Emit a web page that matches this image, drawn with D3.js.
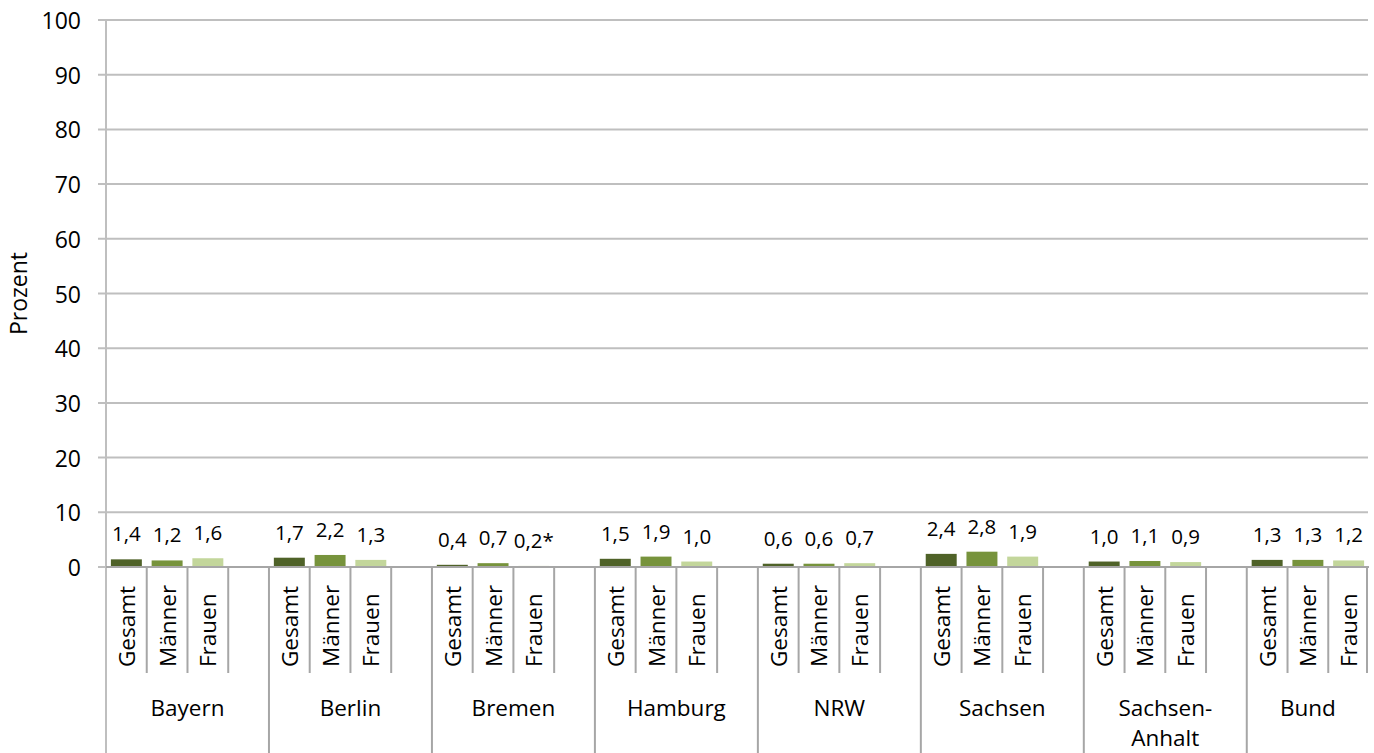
<!DOCTYPE html>
<html>
<head>
<meta charset="utf-8">
<script src="https://cdn.jsdelivr.net/npm/d3@7"></script>
<style>
  html, body { margin: 0; padding: 0; background: #fff; }
  svg { display: block; font-family: "Open Sans", sans-serif; }
</style>
</head>
<body>
<svg id="chart" width="1374" height="753"></svg>
<script>
// ---- data ----
const groups = ["Bayern", "Berlin", "Bremen", "Hamburg", "NRW", "Sachsen", "Sachsen-|Anhalt", "Bund"];
const seriesNames = ["Gesamt", "Männer", "Frauen"];
const gesamt = [1.4, 1.7, 0.4, 1.5, 0.6, 2.4, 1.0, 1.3];
const maenner = [1.2, 2.2, 0.7, 1.9, 0.6, 2.8, 1.1, 1.3];
const frauen = [1.6, 1.3, 0.2, 1.0, 0.7, 1.9, 0.9, 1.2];
const noteMarks = [["Bremen", "Frauen", "*"]];
const yTicks = [0, 10, 20, 30, 40, 50, 60, 70, 80, 90, 100];
const colors = ["#4f6228", "#77933c", "#c3d69b"];

// ---- layout ----
const svg = d3.select("#chart");
const mLeft = 106, mRight = 1369, mTop = 20, mBottom = 567;
const seriesVals = [gesamt, maenner, frauen];

// slots: 3 series + 1 blank per group, last group without blank
const slots = [];
groups.forEach((g, gi) => {
  seriesNames.forEach((s, si) => slots.push({ id: gi + "_" + si, group: g, gi, series: s, si, value: seriesVals[si][gi] }));
  if (gi < groups.length - 1) slots.push({ id: gi + "_blank", group: g, gi, blank: true });
});

const x = d3.scaleBand().domain(slots.map(d => d.id)).range([mLeft, mRight]).paddingInner(0).paddingOuter(0);
const y = d3.scaleLinear().domain([0, 100]).range([mBottom, mTop]);
const bw = x.bandwidth();
const barW = bw * 0.76;

// gridlines
svg.append("g").selectAll("line").data(yTicks).join("line")
  .attr("x1", mLeft - 8).attr("x2", mRight - 1)
  .attr("y1", d => y(d)).attr("y2", d => y(d))
  .attr("stroke", "#bfbfbf").attr("stroke-width", 2);

// y axis line
svg.append("line").attr("x1", mLeft).attr("x2", mLeft).attr("y1", mTop).attr("y2", 753)
  .attr("stroke", "#bfbfbf").attr("stroke-width", 2);

// y tick labels
svg.append("g").selectAll("text").data(yTicks).join("text")
  .attr("x", 81).attr("y", d => y(d)).attr("text-anchor", "end")
  .attr("dominant-baseline", "central")
  .attr("font-size", 23).attr("fill", "#000").text(d => d);

// y axis title
svg.append("text").attr("transform", "translate(18," + ((mTop + mBottom) / 2) + ") rotate(-90)")
  .attr("text-anchor", "middle").attr("dominant-baseline", "central")
  .attr("font-size", 23).text("Prozent");

// bars
const dataSlots = slots.filter(d => !d.blank);
svg.append("g").selectAll("rect").data(dataSlots).join("rect")
  .attr("x", d => x(d.id) + (bw - barW) / 2)
  .attr("width", barW)
  .attr("y", d => y(d.value))
  .attr("height", d => y(0) - y(d.value))
  .attr("fill", d => colors[d.si]);

// value labels
const fmt = v => d3.format(".1f")(v).replace(".", ",");
svg.append("g").selectAll("text").data(dataSlots).join("text")
  .attr("x", d => x(d.id) + bw / 2)
  .attr("y", d => y(d.value) - 18)
  .attr("text-anchor", "middle").attr("font-size", 20.5)
  .text(d => {
    const m = noteMarks.find(n => n[0] === d.group && n[1] === d.series);
    return fmt(d.value) + (m ? m[2] : "");
  });

// category axis line
svg.append("line").attr("x1", mLeft).attr("x2", mRight).attr("y1", mBottom).attr("y2", mBottom)
  .attr("stroke", "#a6a6a6").attr("stroke-width", 2);

// slot boundary ticks
const bounds = d3.range(1, slots.length + 1);
svg.append("g").selectAll("line").data(bounds).join("line")
  .attr("x1", i => i < slots.length ? x(slots[i].id) : mRight - 2)
  .attr("x2", i => i < slots.length ? x(slots[i].id) : mRight - 2)
  .attr("y1", mBottom)
  .attr("y2", i => (i % 4 === 0 && i < slots.length) ? 753 : 673)
  .attr("stroke", "#a6a6a6").attr("stroke-width", 2);

// rotated series labels
svg.append("g").selectAll("text").data(dataSlots).join("text")
  .attr("transform", d => "translate(" + (x(d.id) + bw / 2) + ",667) rotate(-90)")
  .attr("text-anchor", "start").attr("dominant-baseline", "central")
  .attr("font-size", 22.5).text(d => d.series);

// group labels
const gl = svg.append("g");
groups.forEach((g, gi) => {
  const gs = slots.filter(s => s.gi === gi);
  const x0 = x(gs[0].id);
  const x1 = gi < groups.length - 1 ? x(gs[gs.length - 1].id) + bw : mRight;
  const lines = g.split("|");
  const t = gl.append("text").attr("text-anchor", "middle").attr("font-size", 22.5);
  lines.forEach((ln, li) => {
    t.append("tspan").attr("x", (x0 + x1) / 2).attr("y", 716 + li * 30).text(ln);
  });
});
</script>
</body>
</html>
